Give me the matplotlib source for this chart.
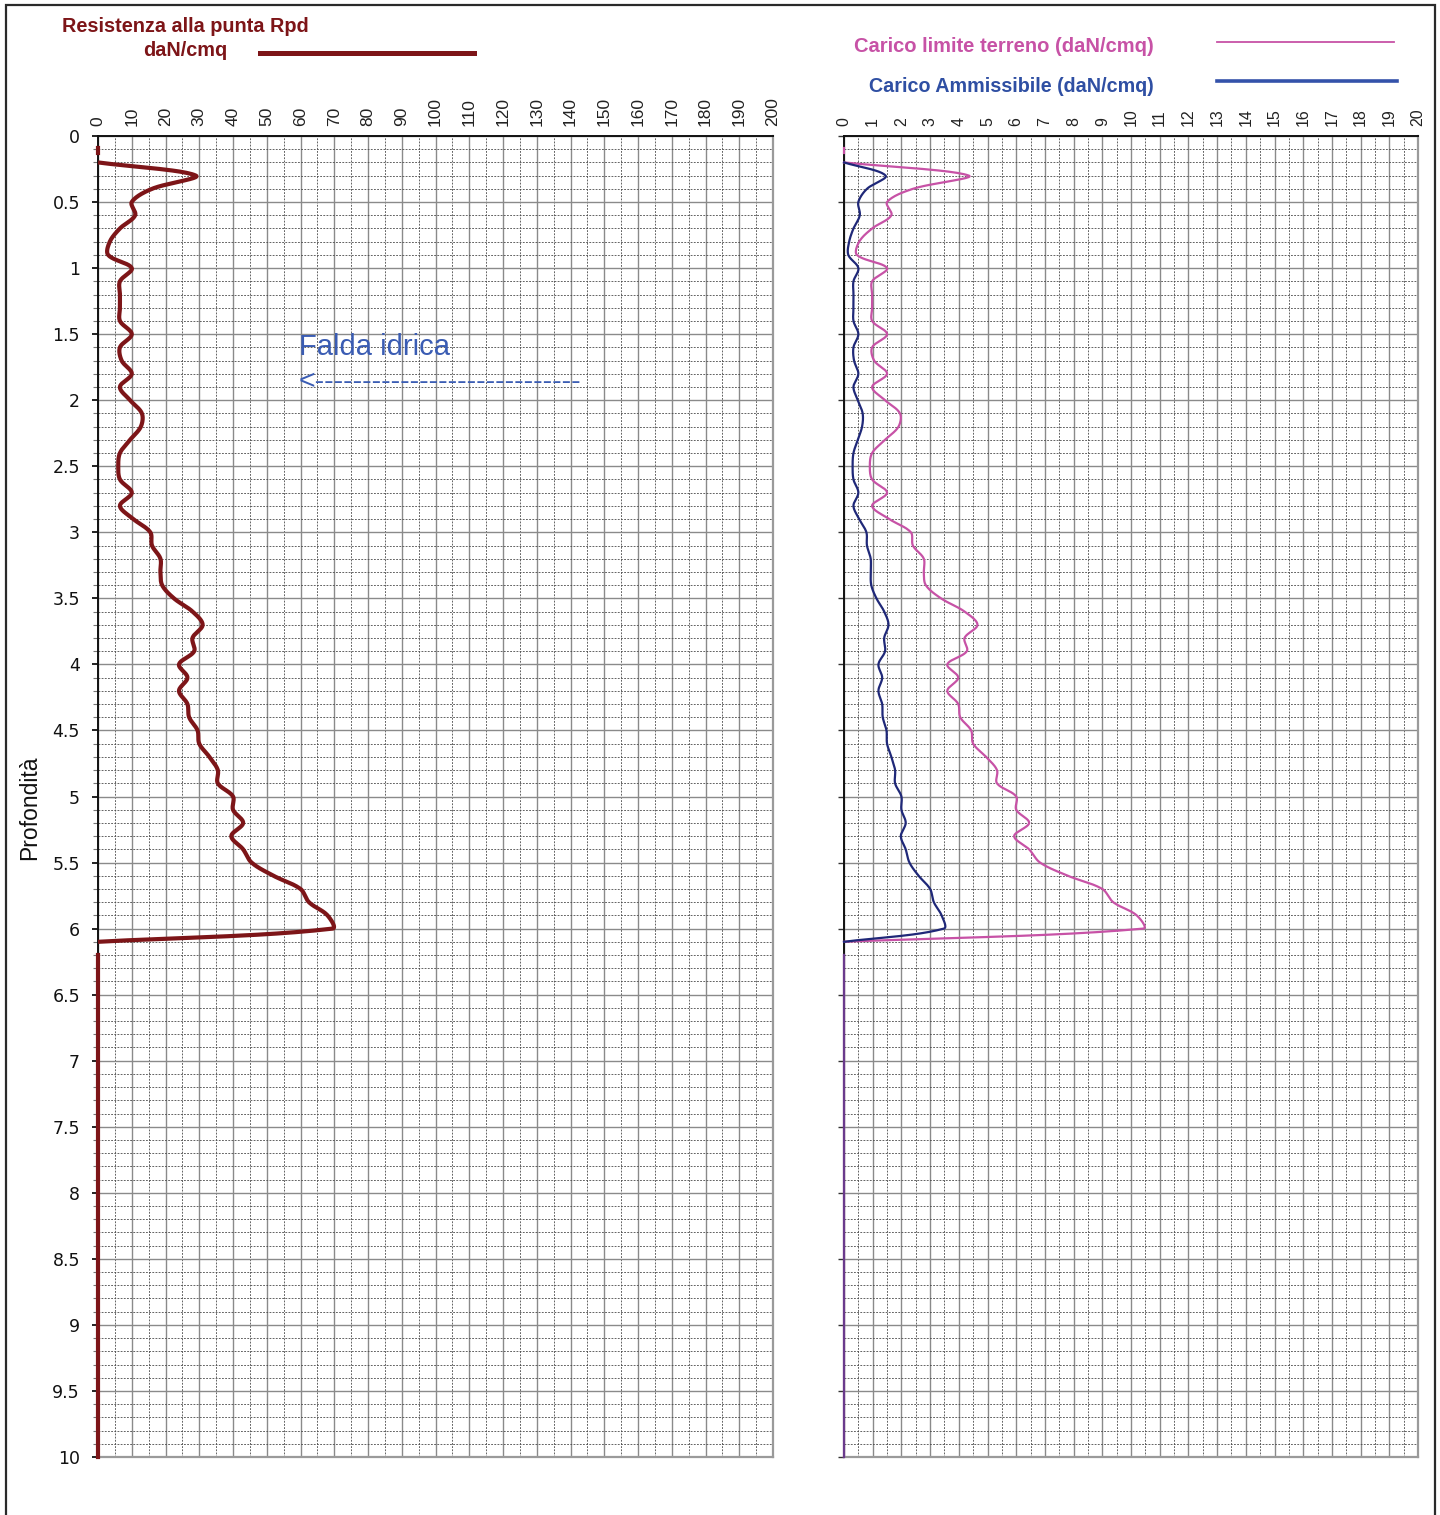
import numpy as np
import matplotlib
matplotlib.use("Agg")
import matplotlib.pyplot as plt
from matplotlib.ticker import MultipleLocator, FuncFormatter
from matplotlib.lines import Line2D
from matplotlib.patches import Rectangle

plt.rcParams["font.family"] = ["Liberation Sans", "DejaVu Sans"]

# --- penetrometer data (DPM), one reading every 0.1 m -------------------
depth = np.round(np.arange(0.2, 6.15, 0.1), 1)

rpd = [0, 29, 16, 10, 11, 6.5, 3.5, 3, 10, 6.5,
       6.5, 6.5, 6.5, 10, 6.5, 7, 10, 6.5, 9.5, 13,
       12.7, 9.5, 6.5, 6, 6.5, 10, 6.5, 10.5, 15.5, 16,
       18.5, 18.5, 19, 22.5, 28, 31, 28, 28.5, 24, 26.5,
       24, 26.5, 27, 29.5, 30, 33, 35.5, 35.5, 40, 40,
       43, 39.5, 43, 45.5, 52, 60, 62.5, 68, 69.5, 0]

carico_limite = [0, 4.35, 2.4, 1.5, 1.65, 0.98, 0.53, 0.45, 1.5, 0.98,
                 0.98, 0.98, 0.98, 1.5, 0.98, 1.05, 1.5, 0.98, 1.43, 1.95,
                 1.9, 1.43, 0.98, 0.9, 0.98, 1.5, 0.98, 1.58, 2.33, 2.4,
                 2.78, 2.78, 2.85, 3.38, 4.2, 4.65, 4.2, 4.28, 3.6, 3.98,
                 3.6, 3.98, 4.05, 4.43, 4.5, 4.95, 5.33, 5.33, 6.0, 6.0,
                 6.45, 5.93, 6.45, 6.83, 7.8, 9.0, 9.38, 10.2, 10.43, 0]

carico_ammissibile = [0, 1.45, 0.8, 0.5, 0.55, 0.33, 0.18, 0.15, 0.5, 0.33,
                      0.33, 0.33, 0.33, 0.5, 0.33, 0.35, 0.5, 0.33, 0.48, 0.65,
                      0.63, 0.48, 0.33, 0.3, 0.33, 0.5, 0.33, 0.53, 0.78, 0.8,
                      0.93, 0.93, 0.95, 1.13, 1.4, 1.55, 1.4, 1.43, 1.2, 1.33,
                      1.2, 1.33, 1.35, 1.48, 1.5, 1.65, 1.78, 1.78, 2.0, 2.0,
                      2.15, 1.98, 2.15, 2.28, 2.6, 3.0, 3.13, 3.4, 3.48, 0]

# isolated readings above and below the main profile (value 0)
stub_depth = [0.09, 0.13]
tail_depth = [6.2, 10.0]
zero_pair = [0, 0]

rpd_ticks = list(range(0, 201, 10))
carico_ticks = list(range(0, 21, 1))
depth_ticks = [i * 0.5 for i in range(21)]

# --- colours --------------------------------------------------------------
RPD_C = "#7d1518"
PINK_C = "#c752a6"
NAVY_C = "#1f2878"
BLUE_TXT = "#2f4fa3"
BLUE_KEY = "#3452aa"
FALDA_C = "#3a5cb3"


def smooth(xv, yv, kx, ky, n=24):
    """Bezier smoothing through every reading, tangent arms weighted by
    the on-screen chord lengths (kx, ky = pixels per data unit)."""
    p = np.column_stack([np.asarray(xv, float), np.asarray(yv, float)])
    q = np.vstack([p[0], p, p[-1]])
    qs = q * np.array([kx, ky])
    t = np.linspace(0, 1, n, endpoint=False)[:, None]
    out = []
    for i in range(1, len(q) - 2):
        p0, p1, p2, p3 = q[i - 1], q[i], q[i + 1], q[i + 2]
        d01 = np.hypot(*(qs[i] - qs[i - 1]))
        d12 = np.hypot(*(qs[i + 1] - qs[i]))
        d23 = np.hypot(*(qs[i + 2] - qs[i + 1]))
        w1 = d12 / (d01 + d12) if d01 + d12 > 0 else 0.5
        w2 = d12 / (d12 + d23) if d12 + d23 > 0 else 0.5
        c1 = p1 + (p2 - p0) * w1 / 3.0
        c2 = p2 - (p3 - p1) * w2 / 3.0
        seg = ((1 - t) ** 3) * p1 + 3 * ((1 - t) ** 2) * t * c1 \
            + 3 * (1 - t) * t ** 2 * c2 + t ** 3 * p2
        out.append(seg)
    out.append(p[-1:])
    s = np.vstack(out)
    return s[:, 0], s[:, 1]


W, H = 1440, 1515
fig = plt.figure(figsize=(W / 100, H / 100), dpi=100)


def frac_x(px):
    return px / W


def frac_y(py):
    return 1 - py / H


top, bot = 136, 1457
L1, R1, L2, R2 = 98, 773, 844, 1418
ax1 = fig.add_axes([frac_x(L1), frac_y(bot), frac_x(R1) - frac_x(L1),
                    frac_y(top) - frac_y(bot)])
ax2 = fig.add_axes([frac_x(L2), frac_y(bot), frac_x(R2) - frac_x(L2),
                    frac_y(top) - frac_y(bot)])
KY = (bot - top) / 10.0


def style_axes(ax, xmax, xminor, xticks, show_ylabels, xlabelsize):
    ax.set_xlim(0, xmax)
    ax.set_ylim(10, 0)
    ax.xaxis.tick_top()
    ax.set_xticks(xticks)
    ax.xaxis.set_minor_locator(MultipleLocator(xminor))
    ax.set_yticks(depth_ticks)
    ax.yaxis.set_minor_locator(MultipleLocator(0.1))
    ax.yaxis.set_major_formatter(FuncFormatter(lambda v, _: f"{v:g}"))
    ax.grid(which="major", color="#8a8a8a", lw=1.0, ls="-")
    ax.grid(which="minor", color="#4a4a4a", lw=0.6, ls=(0, (2.2, 1.6)))
    ax.set_axisbelow(True)
    ax.tick_params(axis="x", which="both", length=0, pad=7,
                   labelrotation=90, labelsize=xlabelsize,
                   labelcolor="#222222")
    if show_ylabels:
        ax.tick_params(axis="y", which="major", length=4.5, width=1.3,
                       color="#111111", labelsize=12.5, pad=8.5,
                       labelcolor="#111111")
        ax.tick_params(axis="y", which="minor", length=3.5, width=0.8,
                       color="#777777")
        for lab in ax.get_yticklabels():
            lab.set_fontfamily("DejaVu Sans")
    else:
        ax.tick_params(axis="y", which="major", length=4.5, width=1.0,
                       color="#333333", labelleft=False)
        ax.tick_params(axis="y", which="minor", length=0)
    for name in ("left", "top"):
        ax.spines[name].set_color("#111111")
        ax.spines[name].set_linewidth(1.4)
    for name in ("right", "bottom"):
        ax.spines[name].set_color("#9a9a9a")
        ax.spines[name].set_linewidth(1.6)


style_axes(ax1, 200, 5, rpd_ticks, True, 12.5)
style_axes(ax2, 20, 0.5, carico_ticks, False, 11.5)

# --- left panel: resistenza alla punta -------------------------------------
sx, sy = smooth(rpd, depth, (R1 - L1) / 200.0, KY)
ax1.plot(sx, sy, color=RPD_C, lw=3.0, solid_capstyle="butt", zorder=4,
         clip_on=False)
ax1.plot(zero_pair, stub_depth, color=RPD_C, lw=3.0, zorder=4, clip_on=False)
ax1.plot(zero_pair, tail_depth, color=RPD_C, lw=3.0, zorder=4, clip_on=False)

ax1.text(59.5, 1.6, "Falda idrica", color=FALDA_C, fontsize=21,
         va="center", ha="left")
ax1.text(59.5, 1.86, "<" + "-" * 28, color=FALDA_C, fontsize=20.5,
         va="center", ha="left")

# --- right panel: carico limite / ammissibile ------------------------------
kx2 = (R2 - L2) / 20.0
px_, py_ = smooth(carico_limite, depth, kx2, KY)
ax2.plot(px_, py_, color=PINK_C, lw=1.6, zorder=4, clip_on=False)
bx_, by_ = smooth(carico_ammissibile, depth, kx2, KY)
ax2.plot(bx_, by_, color=NAVY_C, lw=1.6, zorder=5, clip_on=False)
ax2.plot(zero_pair, stub_depth, color=PINK_C, lw=1.6, zorder=4, clip_on=False)
ax2.plot(zero_pair, tail_depth, color=PINK_C, lw=1.6, zorder=4, clip_on=False)
ax2.plot(zero_pair, tail_depth, color=NAVY_C, lw=1.6, alpha=0.55, zorder=5,
         clip_on=False)

# --- titles and legend keys ------------------------------------------------
fig.text(frac_x(185), frac_y(26), "Resistenza alla punta Rpd", color=RPD_C,
         fontsize=14.3, fontweight="bold", ha="center", va="center")
fig.text(frac_x(185), frac_y(50), "daN/cmq", color=RPD_C,
         fontsize=14.3, fontweight="bold", ha="center", va="center")
fig.add_artist(Line2D([frac_x(260), frac_x(474)], [frac_y(53), frac_y(53)],
                      color=RPD_C, lw=3.6))

fig.text(frac_x(1154), frac_y(46), "Carico limite terreno (daN/cmq)",
         color=PINK_C, fontsize=14.5, fontweight="bold", ha="right",
         va="center")
fig.add_artist(Line2D([frac_x(1217), frac_x(1394)], [frac_y(42), frac_y(42)],
                      color=PINK_C, lw=1.3))
fig.text(frac_x(1154), frac_y(86), "Carico Ammissibile (daN/cmq)",
         color=BLUE_TXT, fontsize=14.2, fontweight="bold", ha="right",
         va="center")
fig.add_artist(Line2D([frac_x(1217), frac_x(1397)], [frac_y(81), frac_y(81)],
                      color=BLUE_KEY, lw=2.6))

fig.text(frac_x(30), frac_y(808), "Profondità", rotation=90, fontsize=16.5,
         ha="center", va="center", color="#111111")

# outer frame
fig.add_artist(Rectangle((frac_x(6), -0.02), frac_x(1435) - frac_x(6),
                         frac_y(5) + 0.02, transform=fig.transFigure,
                         fill=False, edgecolor="#2a2a2a", lw=1.6))

fig.savefig("out.png", dpi=100)
